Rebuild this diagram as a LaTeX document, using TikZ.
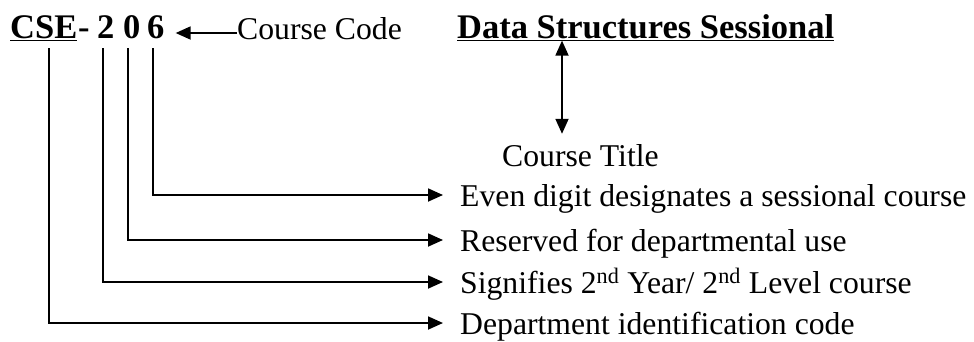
\documentclass[tikz,border=0pt]{standalone}
\usepackage{fontspec}
\setmainfont{Liberation Serif}
\usetikzlibrary{arrows.meta,calc}
\begin{document}
\begin{tikzpicture}[x=1pt,y=-1pt,
  bigb/.style={inner sep=0pt,anchor=base west,font=\fontsize{34.5}{40}\selectfont\bfseries},
  lbl/.style={inner sep=0pt,anchor=west,text height=22pt,text depth=0pt,font=\fontsize{31.7}{36}\selectfont},
  conn/.style={line width=1.8pt,-{Triangle[length=15pt,width=13pt]}},
  dconn/.style={line width=1.8pt,{Triangle[length=15pt,width=13pt]}-{Triangle[length=15pt,width=13pt]}}]
\useasboundingbox (0,0) rectangle (974,341);
% code
\node[bigb] (cse) at (10,38) {\underline{CSE}};
\node[bigb] (dash) at (78,38) {-};
\node[bigb] (d2) at (97,38) {2};
\node[bigb] (d0) at (123,38) {0};
\node[bigb] (d6) at (147,38) {6};
\node[inner sep=0pt,anchor=base west,text height=12pt,text depth=0pt,font=\fontsize{31.7}{36}\selectfont] (cc) at (237,39) {Course Code};
\draw[conn,shorten >=11pt] (cc.west) -- (cc.west -| d6.east);
% title
\node[bigb] (title) at (457,38) {\underline{Data Structures Sessional}};
\node[inner sep=0pt,anchor=base west,text height=32pt,text depth=0pt,font=\fontsize{31.7}{36}\selectfont] (ct) at (502,166) {Course Title};
\coordinate (tx) at (562,0);
\draw[dconn] (title.south -| tx) -- (ct.north -| tx);
% meanings
\node[lbl] (t1) at (460,195) {Even digit designates a sessional course};
\node[lbl] (t2) at (460,240) {Reserved for departmental use};
\node[lbl] (t3) at (460,282) {Signifies 2\textsuperscript{nd} Year/ 2\textsuperscript{nd} Level course};
\node[lbl] (t4) at (460,323) {Department identification code};
\coordinate (top) at (0,48);
\draw[conn,shorten >=17pt] ([xshift=-2.6pt]d6.south |- top) |- (t1.west);
\draw[conn,shorten >=17pt] ([xshift=-3.6pt]d0.south |- top) |- (t2.west);
\draw[conn,shorten >=17pt] ([xshift=-2.6pt]d2.south |- top) |- (t3.west);
\draw[conn,shorten >=17pt] ([xshift=5.5pt]cse.south |- top) |- (t4.west);
\end{tikzpicture}
\end{document}
